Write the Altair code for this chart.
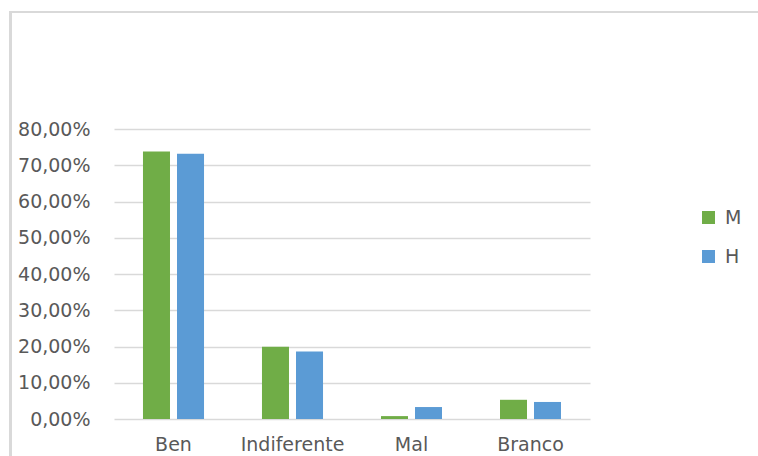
import altair as alt
import pandas as pd

# Survey answers by group (share of respondents)
categories = ["Ben", "Indiferente", "Mal", "Branco"]
series = ["M", "H"]
m_values = [0.738, 0.199, 0.008, 0.053]
h_values = [0.732, 0.186, 0.033, 0.047]
y_ticks = [0.0, 0.1, 0.2, 0.3, 0.4, 0.5, 0.6, 0.7, 0.8]
colors = ["#70AD47", "#5B9BD5"]

rows = []
for cat, m, h in zip(categories, m_values, h_values):
    rows.append({"categoria": cat, "grupo": "M", "valor": m})
    rows.append({"categoria": cat, "grupo": "H", "valor": h})
df = pd.DataFrame(rows)

FONT = "DejaVu Sans"
TEXT = "#595959"
GRID = "#d9d9d9"

bars = alt.Chart(df).mark_bar().encode(
    x=alt.X(
        "categoria:N",
        sort=categories,
        title=None,
        scale=alt.Scale(paddingInner=0.487, paddingOuter=0.2435),
        axis=alt.Axis(
            labelAngle=0,
            domain=False,
            ticks=False,
            labelFont=FONT,
            labelFontSize=19,
            labelColor=TEXT,
            labelPadding=16,
        ),
    ),
    xOffset=alt.XOffset(
        "grupo:N", sort=series, scale=alt.Scale(paddingInner=0.206, paddingOuter=0)
    ),
    y=alt.Y(
        "valor:Q",
        title=None,
        scale=alt.Scale(domain=[0, 0.8], nice=False),
        axis=alt.Axis(
            values=y_ticks,
            labelExpr="replace(format(datum.value, '.2%'), '.', ',')",
            domain=False,
            ticks=False,
            grid=True,
            gridColor=GRID,
            gridWidth=1.6,
            labelFont=FONT,
            labelFontSize=19,
            labelColor=TEXT,
            labelPadding=24,
        ),
    ),
    color=alt.Color(
        "grupo:N",
        sort=series,
        scale=alt.Scale(domain=series, range=colors),
        legend=alt.Legend(
            title=None,
            orient="none",
            legendX=585,
            legendY=79,
            symbolType="square",
            symbolSize=169,
            symbolStrokeWidth=0,
            labelFont=FONT,
            labelFontSize=19,
            labelColor=TEXT,
            labelOffset=7,
            rowPadding=19,
            padding=0,
        ),
    ),
)

# Chart frame: light grey line along the top and left edges
frame_data = alt.Data(values=[{"k": 0}])
top_edge = alt.Chart(frame_data).mark_rule(color=GRID, strokeWidth=2).encode(
    x=alt.value(-105), x2=alt.value(650), y=alt.value(-117)
)
left_edge = alt.Chart(frame_data).mark_rule(color=GRID, strokeWidth=3).encode(
    x=alt.value(-103.5), y=alt.value(-118), y2=alt.value(330)
)

chart = (
    alt.layer(bars, top_edge, left_edge)
    .properties(
        width=476,
        height=290,
        autosize=alt.AutoSizeParams(type="none"),
        padding={"left": 114, "top": 129, "right": 168, "bottom": 37},
        background="white",
    )
    .configure_view(stroke=None)
)

chart.save("out.html", embed_options={"renderer": "svg", "actions": False})
